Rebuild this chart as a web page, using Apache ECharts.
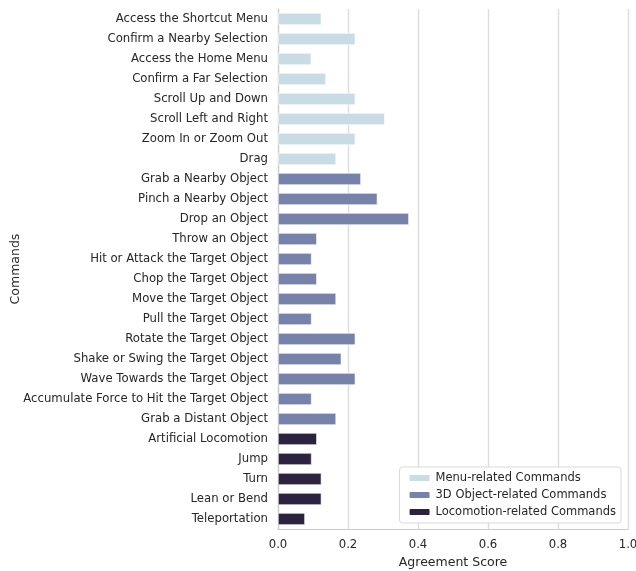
<!DOCTYPE html>
<html>
<head>
    <meta charset="utf-8">
    <title>Agreement Score</title>
    <script src="https://cdn.jsdelivr.net/npm/echarts@6/dist/echarts.min.js"></script>
    <style>
        body { margin: 0; background: #fff; }
    </style>
</head>
<body>
    <div id="main" style="width: 636px;height:571px;"></div>
<script type="text/javascript">
    var commands = [
        'Access the Shortcut Menu', 'Confirm a Nearby Selection', 'Access the Home Menu',
        'Confirm a Far Selection', 'Scroll Up and Down', 'Scroll Left and Right',
        'Zoom In or Zoom Out', 'Drag', 'Grab a Nearby Object', 'Pinch a Nearby Object',
        'Drop an Object', 'Throw an Object', 'Hit or Attack the Target Object',
        'Chop the Target Object', 'Move the Target Object', 'Pull the Target Object',
        'Rotate the Target Object', 'Shake or Swing the Target Object',
        'Wave Towards the Target Object', 'Accumulate Force to Hit the Target Object',
        'Grab a Distant Object', 'Artificial Locomotion', 'Jump', 'Turn',
        'Lean or Bend', 'Teleportation'
    ];
    var groups = ['Menu-related Commands', '3D Object-related Commands', 'Locomotion-related Commands'];
    // group index of each command
    var groupOf = [0, 0, 0, 0, 0, 0, 0, 0,
        1, 1, 1, 1, 1, 1, 1, 1, 1, 1, 1, 1, 1,
        2, 2, 2, 2, 2];
    var scores = [0.124, 0.221, 0.095, 0.137, 0.221, 0.305, 0.221, 0.166,
        0.237, 0.284, 0.374, 0.111, 0.096, 0.111, 0.166, 0.096, 0.221, 0.181, 0.221, 0.096, 0.166,
        0.111, 0.096, 0.124, 0.124, 0.077];
    var colors = ['#c9dce6', '#7782ab', '#2c2340'];

    var myChart = echarts.init(document.getElementById('main'));

    var series = groups.map(function (g, gi) {
        return {
            name: g,
            type: 'bar',
            stack: 'all',
            barWidth: '60%',
            itemStyle: { color: colors[gi], borderColor: '#ffffff', borderWidth: 0.6 },
            data: scores.map(function (v, i) { return groupOf[i] === gi ? v : '-'; })
        };
    });

    var option = {
        backgroundColor: '#ffffff',
        animation: false,
        textStyle: { fontFamily: 'DejaVu Sans' },
        grid: { left: 278, right: 8, top: 9, bottom: 42, containLabel: false, outerBoundsMode: 'none' },
        legend: {
            data: groups,
            orient: 'vertical',
            right: 15,
            bottom: 48,
            itemWidth: 22,
            itemHeight: 8,
            itemGap: 5,
            padding: [5, 5, 5, 8],
            borderColor: '#d9d9d9',
            borderWidth: 1,
            borderRadius: 3,
            backgroundColor: '#ffffff',
            textStyle: { fontSize: 11.5, color: '#262626' }
        },
        xAxis: {
            type: 'value',
            min: 0,
            max: 1,
            interval: 0.2,
            name: 'Agreement Score',
            nameLocation: 'middle',
            nameGap: 27,
            nameMoveOverlap: false,
            nameTextStyle: { fontSize: 12.5, color: '#262626' },
            axisLine: { show: true, lineStyle: { color: '#cccccc', width: 1.2 } },
            axisTick: { show: false },
            axisLabel: {
                fontSize: 11.7, color: '#262626', margin: 10,
                formatter: function (v) { return v.toFixed(1); }
            },
            splitLine: { show: true, lineStyle: { color: '#dddddd', width: 1.4 } }
        },
        yAxis: {
            type: 'category',
            inverse: true,
            data: commands,
            name: 'Commands',
            nameLocation: 'middle',
            nameGap: 256,
            nameMoveOverlap: false,
            nameTextStyle: { fontSize: 12.5, color: '#262626' },
            axisLine: { show: true, lineStyle: { color: '#cccccc', width: 1.2 } },
            axisTick: { show: false },
            axisLabel: { fontSize: 11.7, color: '#262626', margin: 10 }
        },
        series: series
    };

    myChart.setOption(option);
</script>
</body>
</html>
